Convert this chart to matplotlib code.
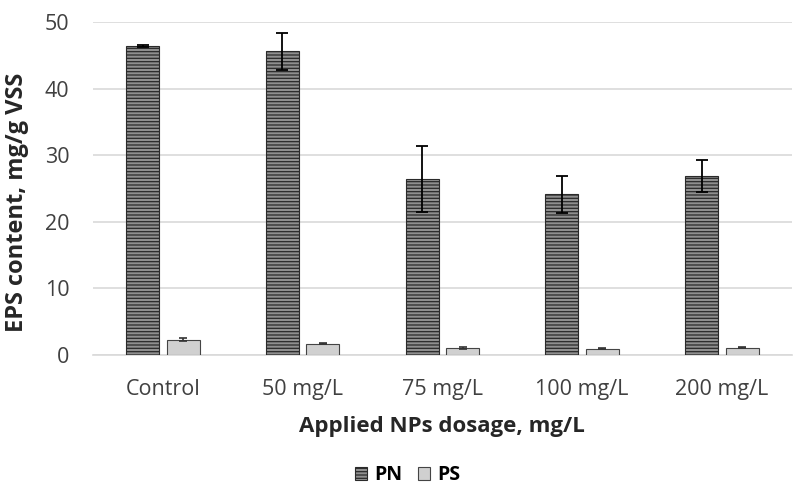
import numpy as np
import matplotlib.pyplot as plt

plt.rcParams['font.family'] = ['Open Sans', 'DejaVu Sans']
plt.rcParams['hatch.linewidth'] = 0.9

categories = ['Control', '50 mg/L', '75 mg/L', '100 mg/L', '200 mg/L']
pn = [46.4, 45.6, 26.4, 24.1, 26.8]
pn_err = [0.2, 2.8, 5.0, 2.8, 2.4]
ps = [2.3, 1.7, 1.0, 0.95, 1.1]
ps_err = [0.2, 0.12, 0.15, 0.1, 0.1]

x = np.arange(len(categories))
w = 0.235
off = 0.145

fig = plt.figure(figsize=(7.95, 4.87), dpi=100)
ax = fig.add_axes([0.117, 0.271, 0.879, 0.684])

ax.bar(x - off, pn, w, color='#8f8f8f', edgecolor='#2a2a2a', hatch='-----',
       linewidth=0.8, label='PN', zorder=3)
ax.bar(x + off, ps, w, color='#d0d0d0', edgecolor='#444444',
       linewidth=0.8, label='PS', zorder=3)
ax.errorbar(x - off, pn, yerr=pn_err, fmt='none', ecolor='black',
            elinewidth=1.3, capsize=4, capthick=1.3, zorder=4)
ax.errorbar(x + off, ps, yerr=ps_err, fmt='none', ecolor='#333333',
            elinewidth=1.2, capsize=3, capthick=1.2, zorder=4)

ax.set_ylim(0, 50)
ax.set_xlim(-0.5, 4.5)
ax.set_yticks([0, 10, 20, 30, 40, 50])
ax.set_xticks(x)
ax.set_xticklabels(categories)
ax.yaxis.grid(True, color='#d9d9d9', linewidth=1.2, zorder=0)
for s in ['top', 'right', 'left']:
    ax.spines[s].set_visible(False)
ax.spines['bottom'].set_color('#d9d9d9')
ax.spines['bottom'].set_linewidth(1.2)
ax.tick_params(length=0, labelsize=15.5, colors='#404040')
ax.tick_params(axis='y', pad=17)
ax.tick_params(axis='x', pad=17)

ax.set_ylabel('EPS content, mg/g VSS', fontsize=17, fontweight='bold',
              color='#262626')
ax.yaxis.set_label_coords(-0.091, 0.459)
ax.set_xlabel('Applied NPs dosage, mg/L', fontsize=16, fontweight='bold',
              color='#262626', labelpad=12)

fig.legend(loc='center', bbox_to_anchor=(0.513, 0.024), ncol=2,
           frameon=False, handlelength=0.6, handleheight=0.7,
           handletextpad=0.4, columnspacing=0.8,
           prop={'weight': 'bold', 'size': 14})

fig.savefig('out.png', dpi=100)
